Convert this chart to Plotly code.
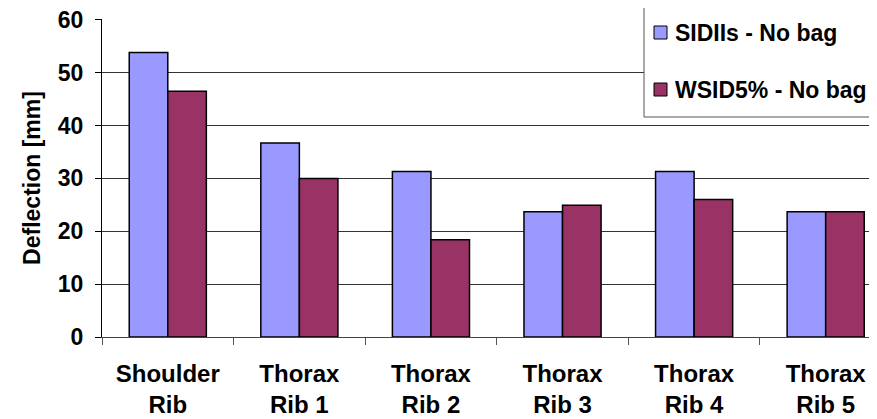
import plotly.graph_objects as go

categories = ["Shoulder<br>Rib", "Thorax<br>Rib 1", "Thorax<br>Rib 2", "Thorax<br>Rib 3", "Thorax<br>Rib 4", "Thorax<br>Rib 5"]
sidiis = [53.8, 36.7, 31.3, 23.7, 31.3, 23.7]
wsid5 = [46.5, 30.0, 18.4, 24.9, 26.0, 23.7]
series_names = ["SIDIIs - No bag", "WSID5% - No bag"]
series_colors = ["#9999FF", "#993366"]
y_ticks = [0, 10, 20, 30, 40, 50, 60]

FONT = "Liberation Sans, Arial, sans-serif"

fig = go.Figure()
for name, vals, col in zip(series_names, [sidiis, wsid5], series_colors):
    fig.add_trace(go.Bar(x=categories, y=vals, name=name,
                         marker=dict(color=col, line=dict(color="#000000", width=1.5))))

# page body has an 8px default margin; margins compensate for it
fig.update_layout(
    width=877, height=419,
    margin=dict(l=94, r=8, t=11, b=90, autoexpand=False),
    paper_bgcolor="white", plot_bgcolor="white",
    barmode="group", bargap=0.414, bargroupgap=0,
    font=dict(family=FONT, size=23, color="black"),
    showlegend=False,
)
fig.update_xaxes(
    type="category", range=[-0.5, 5.39], automargin=False,
    tickson="boundaries", ticks="outside", ticklen=7, tickcolor="#555555",
    showline=True, linecolor="#444444", linewidth=1,
    showgrid=False, ticklabelstandoff=15,
    tickfont=dict(family=FONT, size=24, color="black", weight="bold"),
)
fig.update_yaxes(
    range=[0, 60.15], tickvals=y_ticks, automargin=False,
    ticks="outside", ticklen=6, tickcolor="#000000",
    showline=True, linecolor="#000000", linewidth=1,
    showgrid=True, gridcolor="#333333", gridwidth=1,
    zeroline=False, ticklabelstandoff=7, ticklabeloverflow="allow",
    tickfont=dict(family=FONT, size=23, color="black", weight="bold"),
    title=dict(text="Deflection [mm]", font=dict(family=FONT, size=23, color="black", weight="bold"), standoff=10),
)

# legend box (paper coords; plot spans page x 102..877, page y 19..337)
def px(x):
    return (x - 102) / 775.0

def py(y):
    return (337 - y) / 318.0

fig.add_shape(type="rect", xref="paper", yref="paper",
              x0=px(644), x1=px(905), y0=py(117), y1=py(3),
              line=dict(color="#555555", width=1), fillcolor="white", layer="above")
for i, (name, col) in enumerate(zip(series_names, series_colors)):
    yc = 32.5 + i * 57
    fig.add_shape(type="rect", xref="paper", yref="paper",
                  x0=px(654), x1=px(667), y0=py(yc + 6.5), y1=py(yc - 6.5),
                  line=dict(color="#000000", width=1), fillcolor=col, layer="above")
    fig.add_annotation(xref="paper", yref="paper", x=px(673), y=py(yc),
                       xanchor="left", yanchor="middle", showarrow=False,
                       text="<b>" + name + "</b>",
                       font=dict(family=FONT, size=23, color="black"))

fig.write_html("out.html")
